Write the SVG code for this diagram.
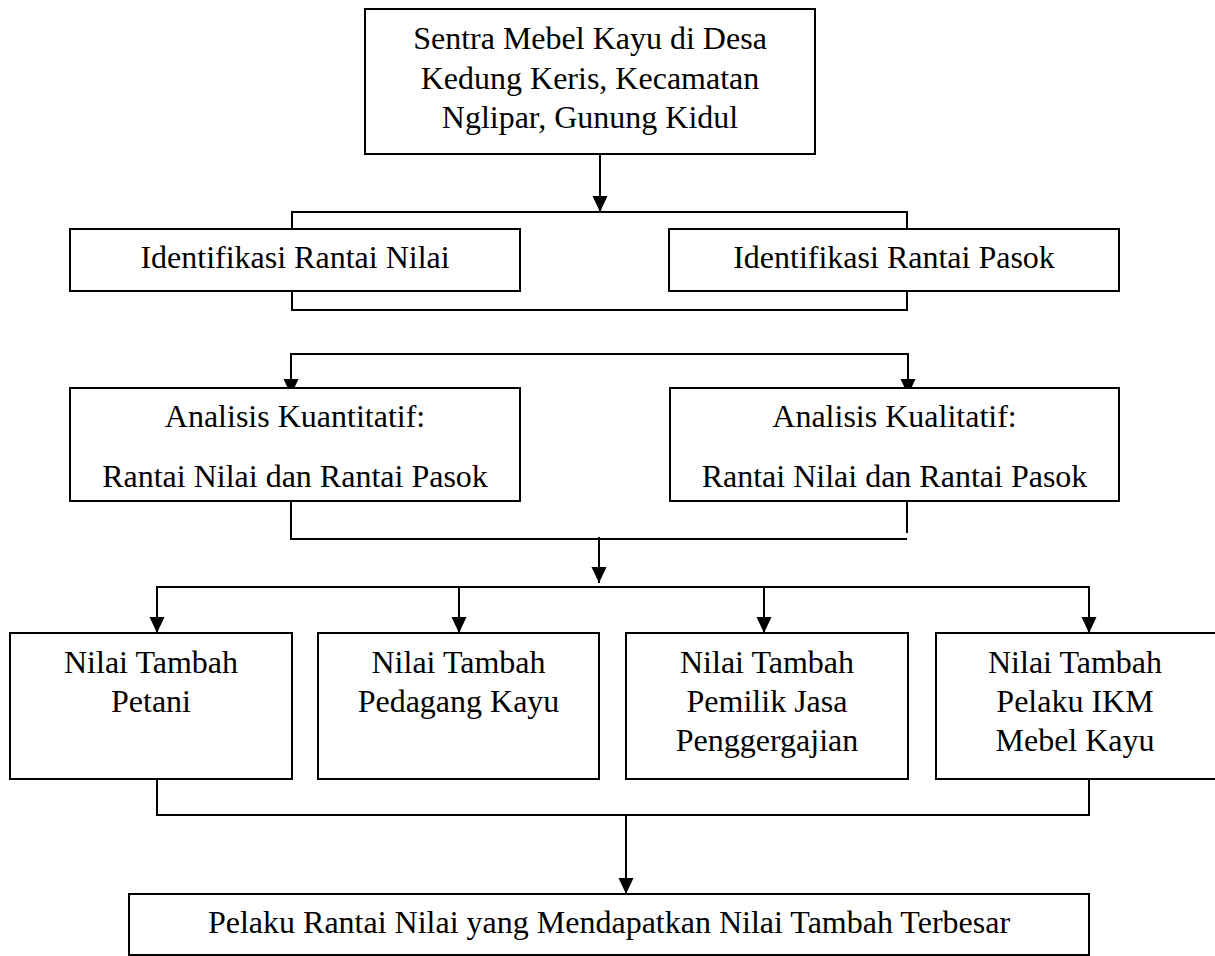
<svg xmlns="http://www.w3.org/2000/svg" width="1215" height="956" viewBox="0 0 1215 956">
<style>
.box{fill:#fff;stroke:#000;stroke-width:2}
.ln{fill:none;stroke:#000;stroke-width:2}
.t{font-size:32px;fill:#000;text-anchor:middle}
</style>
<defs>
<marker id="ah" markerUnits="userSpaceOnUse" markerWidth="16" markerHeight="16" viewBox="0 0 16 16" refX="16" refY="8" orient="auto">
<path d="M0,0.5 L16,8 L0,15.5 Z" fill="#000"/>
</marker>
</defs>
<rect width="1215" height="956" fill="#fff"/>
<g id="connectors">
<line class="ln" x1="600" y1="154" x2="600" y2="212" marker-end="url(#ah)"/>
<polyline class="ln" points="292,230 292,212 907,212 907,229"/>
<polyline class="ln" points="292,291 292,310 907,310 907,291"/>
<polyline class="ln" points="291,354 908,354"/>
<line class="ln" x1="291" y1="353" x2="291" y2="395" marker-end="url(#ah)"/>
<line class="ln" x1="908" y1="353" x2="908" y2="395" marker-end="url(#ah)"/>
<polyline class="ln" points="291,501 291,539 907,539"/>
<line class="ln" x1="907" y1="493" x2="907" y2="533"/>
<line class="ln" x1="599" y1="537" x2="599" y2="583" marker-end="url(#ah)"/>
<polyline class="ln" points="157,587 1089,587"/>
<line class="ln" x1="157" y1="586" x2="157" y2="633" marker-end="url(#ah)"/>
<line class="ln" x1="459" y1="586" x2="459" y2="633" marker-end="url(#ah)"/>
<line class="ln" x1="764" y1="586" x2="764" y2="633" marker-end="url(#ah)"/>
<line class="ln" x1="1089" y1="586" x2="1089" y2="633" marker-end="url(#ah)"/>
<polyline class="ln" points="157,779 157,815 1089,815 1089,779"/>
<line class="ln" x1="626" y1="815" x2="626" y2="894" marker-end="url(#ah)"/>
</g>
<g font-family="Liberation Serif, Times New Roman, DejaVu Serif, serif">
<g id="n-sentra">
<rect class="box" x="365" y="9" width="450" height="145"/>
<text class="t" x="590" y="49">Sentra Mebel Kayu di Desa</text>
<text class="t" x="590" y="89">Kedung Keris, Kecamatan</text>
<text class="t" x="590" y="128">Nglipar, Gunung Kidul</text>
</g>
<g id="n-id-nilai">
<rect class="box" x="70" y="229" width="450" height="62"/>
<text class="t" x="295" y="268">Identifikasi Rantai Nilai</text>
</g>
<g id="n-id-pasok">
<rect class="box" x="669" y="229" width="450" height="62"/>
<text class="t" x="894" y="268">Identifikasi Rantai Pasok</text>
</g>
<g id="n-kuantitatif">
<rect class="box" x="70" y="388" width="450" height="113"/>
<text class="t" x="295" y="427">Analisis Kuantitatif:</text>
<text class="t" x="295" y="487">Rantai Nilai dan Rantai Pasok</text>
</g>
<g id="n-kualitatif">
<rect class="box" x="670" y="388" width="449" height="113"/>
<text class="t" x="894.5" y="427">Analisis Kualitatif:</text>
<text class="t" x="894.5" y="487">Rantai Nilai dan Rantai Pasok</text>
</g>
<g id="n-petani">
<rect class="box" x="10" y="633" width="282" height="146"/>
<text class="t" x="151" y="673">Nilai Tambah</text>
<text class="t" x="151" y="712">Petani</text>
</g>
<g id="n-pedagang">
<rect class="box" x="318" y="633" width="281" height="146"/>
<text class="t" x="458.5" y="673">Nilai Tambah</text>
<text class="t" x="458.5" y="712">Pedagang Kayu</text>
</g>
<g id="n-penggergajian">
<rect class="box" x="626" y="633" width="282" height="146"/>
<text class="t" x="767" y="673">Nilai Tambah</text>
<text class="t" x="767" y="712">Pemilik Jasa</text>
<text class="t" x="767" y="751">Penggergajian</text>
</g>
<g id="n-ikm">
<rect class="box" x="936" y="633" width="280" height="146"/>
<text class="t" x="1075" y="673">Nilai Tambah</text>
<text class="t" x="1075" y="712">Pelaku IKM</text>
<text class="t" x="1075" y="751">Mebel Kayu</text>
</g>
<g id="n-terbesar">
<rect class="box" x="129" y="894" width="960" height="61"/>
<text class="t" x="609" y="933">Pelaku Rantai Nilai yang Mendapatkan Nilai Tambah Terbesar</text>
</g>
</g>
</svg>
